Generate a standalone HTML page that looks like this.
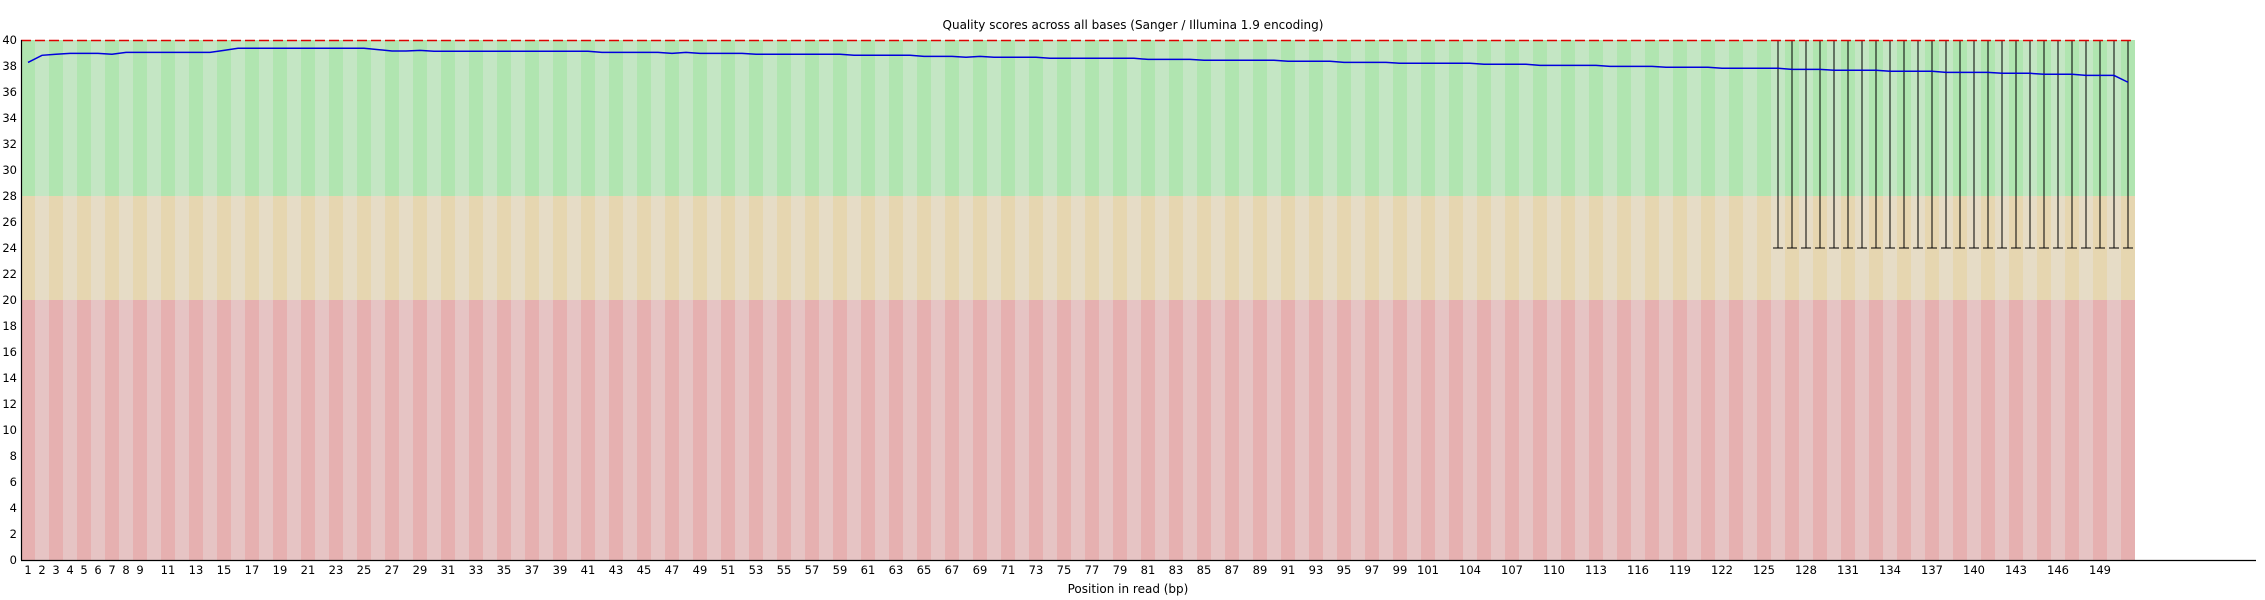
<!DOCTYPE html>
<html><head><meta charset="utf-8"><style>
html,body{margin:0;padding:0;background:#fff;}
svg{display:block;font-family:"DejaVu Sans","Liberation Sans",sans-serif;}
</style></head><body>
<svg width="2265" height="600" viewBox="0 0 2265 600" xmlns="http://www.w3.org/2000/svg">
<defs>
<pattern id="pg" patternUnits="userSpaceOnUse" x="21" y="0" width="28" height="600"><rect x="0" y="0" width="14" height="600" fill="#b0e5b0"/><rect x="14" y="0" width="14" height="600" fill="#c4e6c4"/></pattern>
<pattern id="po" patternUnits="userSpaceOnUse" x="21" y="0" width="28" height="600"><rect x="0" y="0" width="14" height="600" fill="#e6d6b0"/><rect x="14" y="0" width="14" height="600" fill="#e6dcc6"/></pattern>
<pattern id="pr" patternUnits="userSpaceOnUse" x="21" y="0" width="28" height="600"><rect x="0" y="0" width="14" height="600" fill="#e6b0b0"/><rect x="14" y="0" width="14" height="600" fill="#e6c4c4"/></pattern>
</defs>
<rect x="21" y="40" width="2114" height="156" fill="url(#pg)"/>
<rect x="21" y="196" width="2114" height="104" fill="url(#po)"/>
<rect x="21" y="300" width="2114" height="260" fill="url(#pr)"/>
<path stroke="#000" stroke-width="1" fill="none" d="M1778 40V248M1773 248h10M1792 40V248M1787 248h10M1806 40V248M1801 248h10M1820 40V248M1815 248h10M1834 40V248M1829 248h10M1848 40V248M1843 248h10M1862 40V248M1857 248h10M1876 40V248M1871 248h10M1890 40V248M1885 248h10M1904 40V248M1899 248h10M1918 40V248M1913 248h10M1932 40V248M1927 248h10M1946 40V248M1941 248h10M1960 40V248M1955 248h10M1974 40V248M1969 248h10M1988 40V248M1983 248h10M2002 40V248M1997 248h10M2016 40V248M2011 248h10M2030 40V248M2025 248h10M2044 40V248M2039 248h10M2058 40V248M2053 248h10M2072 40V248M2067 248h10M2086 40V248M2081 248h10M2100 40V248M2095 248h10M2114 40V248M2109 248h10M2128 40V248M2123 248h10"/>
<line x1="21" y1="40.5" x2="2135" y2="40.5" stroke="#e00000" stroke-width="1.5" stroke-dasharray="10,4"/>
<polyline fill="none" stroke="#0000dd" stroke-width="1.5" points="28,62.4 42,55.3 56,54.3 70,53.4 98,53.4 112,54.3 126,52.35 210,52.35 224,50.4 238,48.3 364,48.3 378,49.6 392,51.05 406,51.05 420,50.4 434,51.3 588,51.3 602,52.35 658,52.35 672,53.4 686,52.35 700,53.4 742,53.4 756,54.3 840,54.3 854,55.3 910,55.3 924,56.4 952,56.4 966,57.3 980,56.4 994,57.3 1036,57.3 1050,58.3 1134,58.3 1148,59.4 1190,59.4 1204,60.3 1274,60.3 1288,61.3 1330,61.3 1344,62.4 1386,62.4 1400,63.3 1470,63.3 1484,64.3 1526,64.3 1540,65.35 1596,65.35 1610,66.4 1652,66.4 1666,67.3 1708,67.3 1722,68.3 1778,68.3 1792,69.4 1820,69.4 1834,70.3 1876,70.3 1890,71.3 1932,71.3 1946,72.4 1988,72.4 2002,73.3 2030,73.3 2044,74.3 2072,74.3 2086,75.4 2114,75.4 2128,82.25"/>
<line x1="21.5" y1="40" x2="21.5" y2="560" stroke="#000" stroke-width="1.2"/>
<line x1="21" y1="560.5" x2="2256" y2="560.5" stroke="#000" stroke-width="1.2"/>
<g font-size="11.5" fill="#000" text-anchor="end">
<text x="17" y="44">40</text><text x="17" y="70">38</text><text x="17" y="96">36</text><text x="17" y="122">34</text><text x="17" y="148">32</text><text x="17" y="174">30</text><text x="17" y="200">28</text><text x="17" y="226">26</text><text x="17" y="252">24</text><text x="17" y="278">22</text><text x="17" y="304">20</text><text x="17" y="330">18</text><text x="17" y="356">16</text><text x="17" y="382">14</text><text x="17" y="408">12</text><text x="17" y="434">10</text><text x="17" y="460">8</text><text x="17" y="486">6</text><text x="17" y="512">4</text><text x="17" y="538">2</text><text x="17" y="564">0</text>
</g>
<g font-size="11.5" fill="#000" text-anchor="middle">
<text x="28" y="574">1</text><text x="42" y="574">2</text><text x="56" y="574">3</text><text x="70" y="574">4</text><text x="84" y="574">5</text><text x="98" y="574">6</text><text x="112" y="574">7</text><text x="126" y="574">8</text><text x="140" y="574">9</text>
<text x="168" y="574">11</text><text x="196" y="574">13</text><text x="224" y="574">15</text><text x="252" y="574">17</text><text x="280" y="574">19</text><text x="308" y="574">21</text><text x="336" y="574">23</text><text x="364" y="574">25</text><text x="392" y="574">27</text><text x="420" y="574">29</text><text x="448" y="574">31</text><text x="476" y="574">33</text><text x="504" y="574">35</text><text x="532" y="574">37</text><text x="560" y="574">39</text><text x="588" y="574">41</text><text x="616" y="574">43</text><text x="644" y="574">45</text><text x="672" y="574">47</text><text x="700" y="574">49</text><text x="728" y="574">51</text><text x="756" y="574">53</text><text x="784" y="574">55</text><text x="812" y="574">57</text><text x="840" y="574">59</text><text x="868" y="574">61</text><text x="896" y="574">63</text><text x="924" y="574">65</text><text x="952" y="574">67</text><text x="980" y="574">69</text><text x="1008" y="574">71</text><text x="1036" y="574">73</text><text x="1064" y="574">75</text><text x="1092" y="574">77</text><text x="1120" y="574">79</text><text x="1148" y="574">81</text><text x="1176" y="574">83</text><text x="1204" y="574">85</text><text x="1232" y="574">87</text><text x="1260" y="574">89</text><text x="1288" y="574">91</text><text x="1316" y="574">93</text><text x="1344" y="574">95</text><text x="1372" y="574">97</text><text x="1400" y="574">99</text>
<text x="1428" y="574">101</text><text x="1470" y="574">104</text><text x="1512" y="574">107</text><text x="1554" y="574">110</text><text x="1596" y="574">113</text><text x="1638" y="574">116</text><text x="1680" y="574">119</text><text x="1722" y="574">122</text><text x="1764" y="574">125</text><text x="1806" y="574">128</text><text x="1848" y="574">131</text><text x="1890" y="574">134</text><text x="1932" y="574">137</text><text x="1974" y="574">140</text><text x="2016" y="574">143</text><text x="2058" y="574">146</text><text x="2100" y="574">149</text>
</g>
<text x="1133" y="29" font-size="12" text-anchor="middle" fill="#000">Quality scores across all bases (Sanger / Illumina 1.9 encoding)</text>
<text x="1128" y="593" font-size="12" text-anchor="middle" fill="#000">Position in read (bp)</text>
</svg>
</body></html>
